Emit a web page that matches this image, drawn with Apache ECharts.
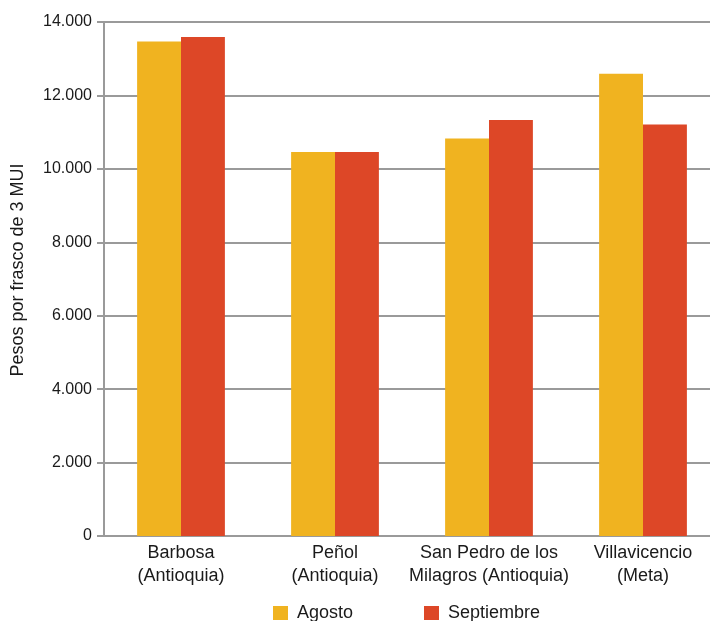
<!DOCTYPE html>
<html>
<head>
<meta charset="utf-8">
<script src="https://cdn.jsdelivr.net/npm/echarts@6/dist/echarts.min.js"></script>
<style>
  html, body { margin: 0; padding: 0; background: #fff; }
  #main { width: 710px; height: 621px; }
</style>
</head>
<body>
<div id="main"></div>
<script>
// categorias y valores
const categories = [
  "Barbosa\n(Antioquia)",
  "Peñol\n(Antioquia)",
  "San Pedro de los\nMilagros (Antioquia)",
  "Villavicencio\n(Meta)"
];
const agosto = [13470, 10460, 10830, 12590];
const septiembre = [13590, 10460, 11330, 11210];
const yTicks = { min: 0, max: 14000, interval: 2000 };

const FONT = "Liberation Sans, Arial, sans-serif";
const GRAY = "#9a9a9a";

const chart = echarts.init(document.getElementById("main"));

const fmt = (v) => v === 0 ? "0" : String(v).replace(/\B(?=(\d{3})+(?!\d))/g, ".");

const option = {
  animation: false,
  textStyle: { fontFamily: FONT },
  grid: { left: 104, top: 22, width: 616, height: 514, outerBoundsMode: "none", containLabel: false },
  legend: [
    {
      data: ["Agosto"],
      left: 273, top: 604, padding: 0,
      itemWidth: 15, itemHeight: 14, icon: "rect",
      textStyle: { fontSize: 18, color: "#1a1a1a", fontFamily: FONT, padding: [0, 0, 0, 4] }
    },
    {
      data: ["Septiembre"],
      left: 424, top: 604, padding: 0,
      itemWidth: 15, itemHeight: 14, icon: "rect",
      textStyle: { fontSize: 18, color: "#1a1a1a", fontFamily: FONT, padding: [0, 0, 0, 4] }
    }
  ],
  xAxis: {
    type: "category",
    data: categories,
    axisLine: { lineStyle: { color: GRAY, width: 2 } },
    axisTick: { show: false },
    axisLabel: {
      interval: 0, margin: 6,
      fontSize: 18, lineHeight: 23, color: "#1a1a1a", fontFamily: FONT
    }
  },
  yAxis: {
    type: "value",
    min: yTicks.min, max: yTicks.max, interval: yTicks.interval,
    name: "Pesos por frasco de 3 MUI",
    nameLocation: "middle",
    nameGap: 77,
    nameTextStyle: { fontSize: 18, color: "#1a1a1a", fontFamily: FONT, padding: [0, 0, 0, 18] },
    axisLine: { show: true, lineStyle: { color: GRAY, width: 2 } },
    axisTick: { show: true, length: 7, lineStyle: { color: GRAY, width: 2 } },
    splitLine: { lineStyle: { color: GRAY, width: 2 } },
    axisLabel: {
      margin: 12, fontSize: 16, color: "#1a1a1a", fontFamily: FONT,
      formatter: fmt
    }
  },
  series: [
    {
      name: "Agosto", type: "bar", data: agosto,
      barGap: "0%", barCategoryGap: "43%",
      itemStyle: { color: "#f0b320" }
    },
    {
      name: "Septiembre", type: "bar", data: septiembre,
      itemStyle: { color: "#dd4727" }
    }
  ]
};

chart.setOption(option);
</script>
</body>
</html>
